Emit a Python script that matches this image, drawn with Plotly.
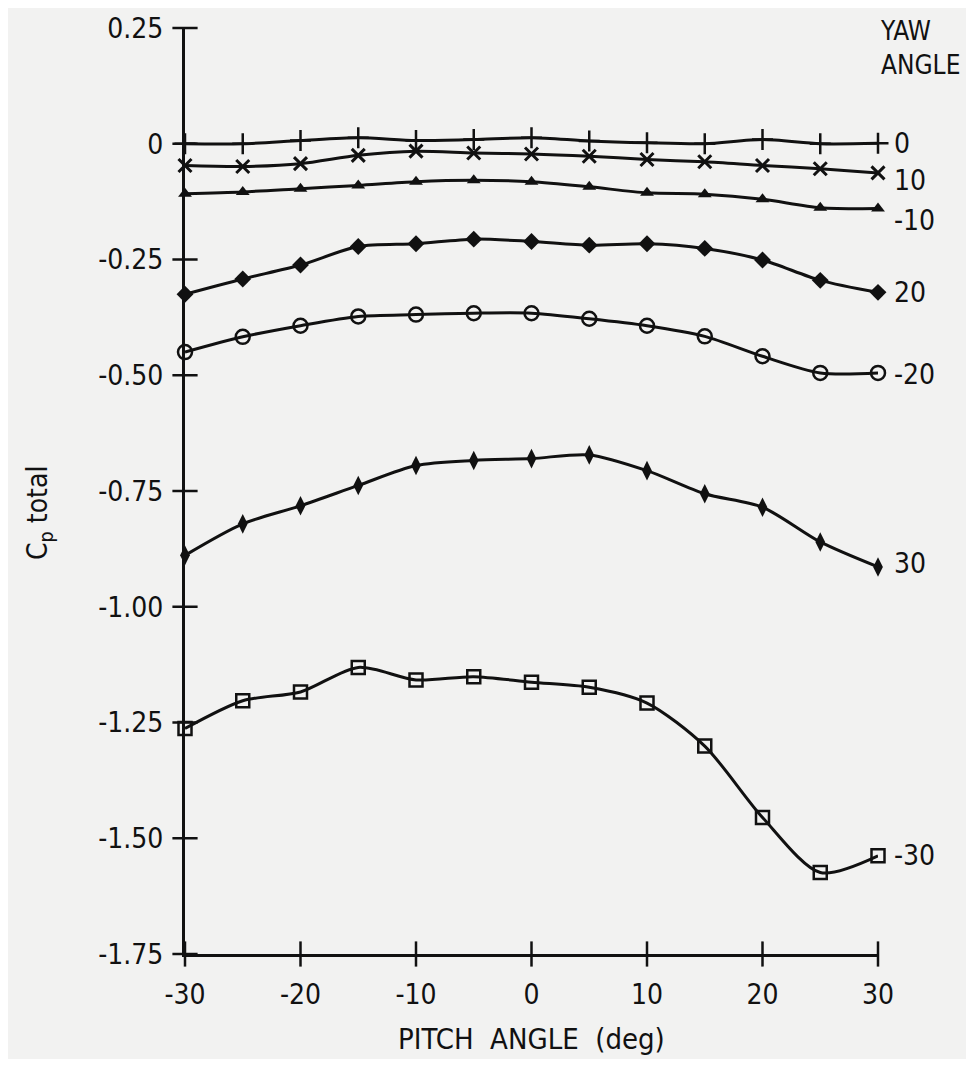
import plotly.graph_objects as go

pitch = [-30, -25, -20, -15, -10, -5, 0, 5, 10, 15, 20, 25, 30]

yaw_0 = [0.000, 0.000, 0.007, 0.013, 0.007, 0.009, 0.013, 0.006, 0.002, 0.000, 0.009, 0.000, 0.001]
yaw_10 = [-0.047, -0.049, -0.043, -0.025, -0.016, -0.020, -0.022, -0.027, -0.034, -0.039, -0.047, -0.054, -0.063]
yaw_m10 = [-0.108, -0.104, -0.097, -0.090, -0.082, -0.079, -0.082, -0.093, -0.106, -0.109, -0.120, -0.138, -0.140]
yaw_20 = [-0.325, -0.292, -0.262, -0.222, -0.216, -0.206, -0.211, -0.219, -0.216, -0.226, -0.251, -0.295, -0.321]
yaw_m20 = [-0.450, -0.417, -0.393, -0.373, -0.369, -0.366, -0.366, -0.378, -0.393, -0.416, -0.459, -0.495, -0.495]
yaw_30 = [-0.889, -0.821, -0.782, -0.738, -0.695, -0.684, -0.680, -0.672, -0.706, -0.756, -0.785, -0.860, -0.914]
yaw_m30 = [-1.263, -1.203, -1.184, -1.131, -1.158, -1.151, -1.163, -1.174, -1.208, -1.301, -1.455, -1.574, -1.538]

yaw_labels = ["0", "10", "-10", "20", "-20", "30", "-30"]

x_ticks = [-30, -20, -10, 0, 10, 20, 30]
x_ticktext = ["-30", "-20", "-10", "0", "10", "20", "30"]
y_ticks = [0.25, 0, -0.25, -0.5, -0.75, -1.0, -1.25, -1.5, -1.75]
y_ticktext = ["0.25", "0", "-0.25", "-0.50", "-0.75", "-1.00", "-1.25", "-1.50", "-1.75"]

FONT = "Liberation Sans Narrow, DejaVu Sans Condensed, Arial Narrow, Liberation Sans, sans-serif"
BG = "#f2f2f1"
INK = "#111111"

series = [
    (yaw_0, dict(symbol="cross-thin", size=15, line=dict(width=2.5, color=INK)), 0),
    (yaw_10, dict(symbol="x-thin", size=13, line=dict(width=3, color=INK)), -8),
    (yaw_m10, dict(symbol="triangle-up", size=12, color=INK), -12),
    (yaw_20, dict(symbol="diamond", size=13, color=INK), 0),
    (yaw_m20, dict(symbol="circle-open", size=14, line=dict(width=2.5, color=INK)), -2),
    (yaw_30, dict(symbol="diamond-tall", size=14, color=INK), 3),
    (yaw_m30, dict(symbol="square-open", size=13, line=dict(width=2.5, color=INK)), 0),
]

x_min, x_max = x_ticks[0], x_ticks[-1]
y_min, y_max = y_ticks[-1], y_ticks[0]

fig = go.Figure()

# crossing tick marks ("+" style) centred on the axis lines, at the tick values
fig.add_trace(go.Scatter(x=x_ticks, y=[y_min] * len(x_ticks), mode="markers",
                         marker=dict(symbol="line-ns", size=18, line=dict(width=2.5, color=INK)),
                         showlegend=False, hoverinfo="skip", cliponaxis=False))
fig.add_trace(go.Scatter(x=[x_min] * len(y_ticks), y=y_ticks, mode="markers",
                         marker=dict(symbol="line-ew", size=18, line=dict(width=2.5, color=INK)),
                         showlegend=False, hoverinfo="skip", cliponaxis=False))

for vals, marker, _ in series:
    m = dict(color=INK)
    m.update(marker)
    fig.add_trace(go.Scatter(
        x=pitch, y=vals, mode="lines+markers",
        line=dict(color=INK, width=3, shape="spline", smoothing=0.8),
        marker=m, showlegend=False, cliponaxis=False,
    ))

for (vals, _, ysh), lab in zip(series, yaw_labels):
    fig.add_annotation(x=pitch[-1], y=vals[-1], text=lab, showarrow=False,
                       xanchor="left", yanchor="middle", xshift=14, yshift=ysh,
                       font=dict(family=FONT, size=28, color=INK))

fig.add_annotation(x=pitch[-1], y=y_max, text="YAW<br>ANGLE",
                   showarrow=False, xanchor="left", yanchor="top", align="left",
                   xshift=0, yshift=14,
                   font=dict(family=FONT, size=26, color=INK))

fig.add_annotation(xref="paper", yref="paper", x=0, y=0.5, text="C<sub>p</sub> total",
                   textangle=-90, showarrow=False, xanchor="center", yanchor="middle",
                   xshift=-146, yshift=-22,
                   font=dict(family=FONT, size=28, color=INK))

fig.add_annotation(xref="paper", yref="paper", x=0.5, y=0, text="PITCH  ANGLE  (deg)",
                   showarrow=False, xanchor="center", yanchor="middle", yshift=-85,
                   font=dict(family=FONT, size=29, color=INK))

axis_common = dict(showgrid=False, zeroline=False, showline=True, linecolor=INK,
                   linewidth=3, ticks="", automargin=False,
                   tickfont=dict(family=FONT, size=28, color=INK))

fig.update_layout(
    template="none",
    width=966, height=1051,
    margin=dict(l=177, r=96, t=20, b=105),
    paper_bgcolor=BG, plot_bgcolor=BG,
    xaxis=dict(range=[x_min, x_max], tickvals=x_ticks, ticktext=x_ticktext,
               ticklabelstandoff=13, **axis_common),
    yaxis=dict(range=[y_min, y_max], tickvals=y_ticks, ticktext=y_ticktext,
               ticklabelstandoff=13, **axis_common),
)

fig.write_html("out.html")
